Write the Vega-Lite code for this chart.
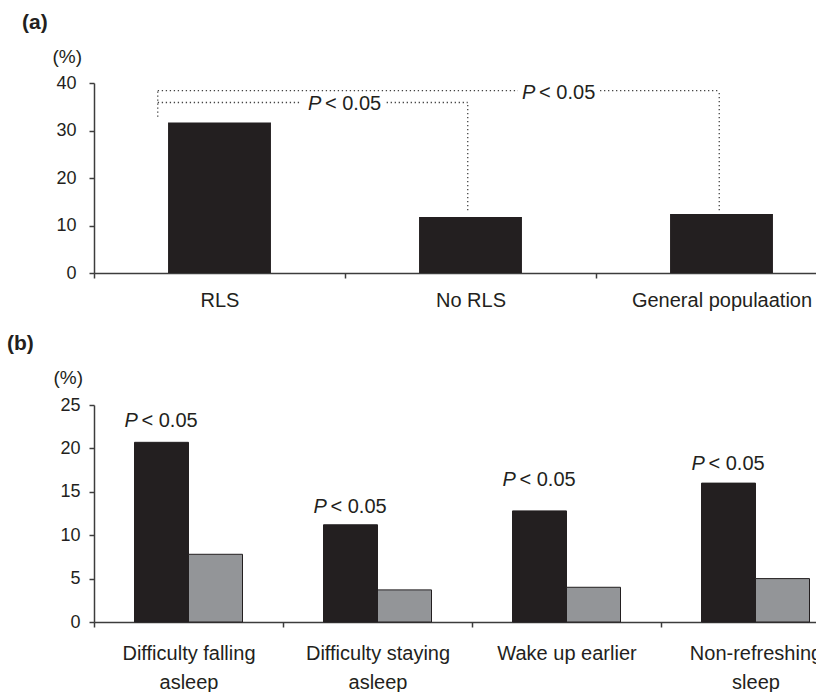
{
  "$schema": "https://vega.github.io/schema/vega-lite/v6.json",
  "padding": {"left": 7, "top": 12, "right": 0, "bottom": 0},
  "bounds": "flush",
  "spacing": 132,
  "background": "white",
  "datasets": {
    "a_bars": [
      {"group": "RLS", "v": 31.7},
      {"group": "No RLS", "v": 11.8},
      {"group": "General populaation", "v": 12.4}
    ],
    "a_lines": [
      {"x": 0.254, "x2": 0.254, "v": 32.9, "v2": 38.4},
      {"x": 0.254, "x2": 1.689, "v": 38.4, "v2": 38.4},
      {"x": 2.016, "x2": 2.491, "v": 38.4, "v2": 38.4},
      {"x": 2.491, "x2": 2.491, "v": 13.2, "v2": 38.4},
      {"x": 0.254, "x2": 0.827, "v": 35.9, "v2": 35.9},
      {"x": 1.166, "x2": 1.489, "v": 35.9, "v2": 35.9},
      {"x": 1.489, "x2": 1.489, "v": 13.2, "v2": 35.9}
    ],
    "a_p": [
      {"xp": 1.0, "v": 35.9},
      {"xp": 1.853, "v": 38.4}
    ],
    "b_bars": [
      {"item": "Difficulty falling asleep", "group": "RLS", "v": 20.7},
      {"item": "Difficulty falling asleep", "group": "No RLS", "v": 7.8},
      {"item": "Difficulty staying asleep", "group": "RLS", "v": 11.2},
      {"item": "Difficulty staying asleep", "group": "No RLS", "v": 3.7},
      {"item": "Wake up earlier", "group": "RLS", "v": 12.8},
      {"item": "Wake up earlier", "group": "No RLS", "v": 4.0},
      {"item": "Non-refreshing sleep", "group": "RLS", "v": 16.0},
      {"item": "Non-refreshing sleep", "group": "No RLS", "v": 5.0}
    ],
    "b_p": [
      {"item": "Difficulty falling asleep", "group": "RLS", "v": 22.5},
      {"item": "Difficulty staying asleep", "group": "RLS", "v": 12.6},
      {"item": "Wake up earlier", "group": "RLS", "v": 15.7},
      {"item": "Non-refreshing sleep", "group": "RLS", "v": 17.5}
    ]
  },
  "config": {
    "view": {"stroke": null},
    "font": "Liberation Sans",
    "axis": {
      "grid": false,
      "domainColor": "#3c3c3c",
      "tickColor": "#3c3c3c",
      "domainWidth": 1.5,
      "tickWidth": 1.5,
      "tickSize": 5,
      "labelColor": "#231f20",
      "titleColor": "#231f20",
      "labelFont": "Liberation Sans",
      "titleFont": "Liberation Sans",
      "titleFontWeight": "normal",
      "labelLimit": 0
    },
    "title": {"font": "Liberation Sans", "fontWeight": "bold", "fontSize": 21, "anchor": "start", "frame": "group", "color": "#231f20", "offset": 14},
    "text": {"font": "Liberation Sans", "fontSize": 20, "color": "#231f20"}
  },
  "vconcat": [
    {
      "width": 722,
      "height": 190,
      "title": {"text": "(a)", "dx": -72},
      "encoding": {
        "y": {
          "field": "v", "type": "quantitative",
          "scale": {"domain": [0, 40]},
          "axis": {"values": [0, 10, 20, 30, 40], "title": "(%)", "titleAngle": 0, "titleAlign": "left", "titleBaseline": "middle", "titleX": -42, "titleY": -27, "titleFontSize": 19, "labelFontSize": 18, "labelPadding": 13}
        }
      },
      "layer": [
        {
          "data": {"name": "a_bars"},
          "mark": {"type": "bar", "color": "#231f20", "width": {"band": 0.41}},
          "encoding": {
            "x": {"field": "group", "type": "nominal", "sort": null,
              "scale": {"range": [0, 753], "paddingInner": 0, "paddingOuter": 0},
              "axis": {"title": null, "labelAngle": 0, "tickBand": "extent", "labelFontSize": 20, "labelPadding": 12}}
          }
        },
        {
          "data": {"name": "a_lines"},
          "mark": {"type": "rule", "strokeDash": [1.3, 2.7], "color": "#444444", "strokeWidth": 1.3},
          "encoding": {
            "x": {"field": "x", "type": "quantitative", "scale": {"domain": [0, 3], "range": [0, 753], "nice": false, "zero": false}, "axis": null},
            "x2": {"field": "x2"},
            "y2": {"field": "v2"}
          }
        },
        {
          "data": {"name": "a_p"},
          "mark": {"type": "text", "text": "P", "fontStyle": "italic", "align": "left", "baseline": "middle", "dx": -37, "dy": 2},
          "encoding": {
            "x": {"field": "xp", "type": "quantitative", "scale": {"domain": [0, 3], "range": [0, 753], "nice": false, "zero": false}, "axis": null}
          }
        },
        {
          "data": {"name": "a_p"},
          "mark": {"type": "text", "text": "< 0.05", "align": "left", "baseline": "middle", "dx": -20, "dy": 2},
          "encoding": {
            "x": {"field": "xp", "type": "quantitative", "scale": {"domain": [0, 3], "range": [0, 753], "nice": false, "zero": false}, "axis": null}
          }
        }
      ],
      "resolve": {"scale": {"x": "independent"}}
    },
    {
      "width": 722,
      "height": 217,
      "title": {"text": "(b)", "dx": -87},
      "encoding": {
        "x": {"field": "item", "type": "nominal", "sort": null,
          "scale": {"range": [0, 756], "paddingInner": 0, "paddingOuter": 0},
          "axis": {"title": null, "labelAngle": 0, "tickBand": "extent", "labelFontSize": 20, "labelPadding": 16, "labelLineHeight": 29,
            "labelExpr": "datum.value == 'Difficulty falling asleep' ? ['Difficulty falling', 'asleep'] : datum.value == 'Difficulty staying asleep' ? ['Difficulty staying', 'asleep'] : datum.value == 'Non-refreshing sleep' ? ['Non-refreshing', 'sleep'] : datum.label"}},
        "y": {
          "field": "v", "type": "quantitative",
          "scale": {"domain": [0, 25]},
          "axis": {"values": [0, 5, 10, 15, 20, 25], "title": "(%)", "titleAngle": 0, "titleAlign": "left", "titleBaseline": "middle", "titleX": -41, "titleY": -28, "titleFontSize": 19, "labelFontSize": 18, "labelPadding": 9}
        },
        "xOffset": {"field": "group", "type": "nominal", "sort": ["RLS", "No RLS"], "scale": {"paddingInner": 0, "paddingOuter": 0.75}}
      },
      "layer": [
        {
          "data": {"name": "b_bars"},
          "mark": {"type": "bar", "stroke": "#231f20", "strokeWidth": 1},
          "encoding": {
            "color": {"field": "group", "type": "nominal", "sort": ["RLS", "No RLS"],
              "scale": {"domain": ["RLS", "No RLS"], "range": ["#231f20", "#939598"]}, "legend": null}
          }
        },
        {
          "data": {"name": "b_p"},
          "mark": {"type": "text", "text": "P", "fontStyle": "italic", "align": "left", "baseline": "alphabetic", "dx": -37}
        },
        {
          "data": {"name": "b_p"},
          "mark": {"type": "text", "text": "< 0.05", "align": "left", "baseline": "alphabetic", "dx": -20}
        }
      ]
    }
  ]
}
